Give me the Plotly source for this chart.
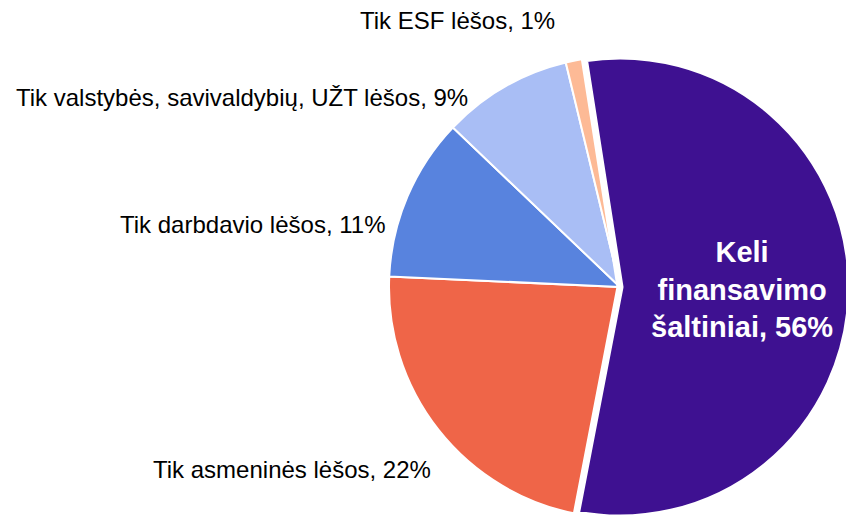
import plotly.graph_objects as go

# Data (clockwise from the bottom-left edge of the big slice)
categories = [
    "Tik asmeninės lėšos",
    "Tik darbdavio lėšos",
    "Tik valstybės, savivaldybių, UŽT lėšos",
    "Tik ESF lėšos",
    "Keli finansavimo šaltiniai",
]
shares = [22.7, 11.4, 9.1, 1.3, 55.5]
pct_labels = [22, 11, 9, 1, 56]
colors = ["#EF6548", "#5883DE", "#A9BEF5", "#FDBA96", "#3E1191"]

# page body has an 8px margin, so the figure is placed at (8, 8)
OFF = 8
W, H = 854 - OFF, 518 - OFF

def px(x):
    return (x - OFF) / W

def py(y):
    return 1 - (y - OFF) / H

CX, CY, R = 620, 287, 231

fig = go.Figure()
fig.add_trace(go.Pie(
    labels=categories,
    values=shares,
    sort=False,
    direction="clockwise",
    rotation=190.9,
    textinfo="none",
    hoverinfo="label+percent",
    marker=dict(colors=colors, line=dict(color="white", width=[2, 2, 2, 2, 7])),
    domain=dict(x=[px(CX - R), px(CX + R)], y=[max(0, py(CY + R)), py(CY - R)]),
    showlegend=False,
))

# label positions (pixels: right edge x, vertical centre y)
outside_pos = [(433, 469), (387, 224), (470, 97), (557, 20)]
annotations = []
for (xr, yc), cat, p in zip(outside_pos, categories[:4], pct_labels[:4]):
    annotations.append(dict(
        x=px(xr), y=py(yc), xref="paper", yref="paper",
        xanchor="right", yanchor="middle", showarrow=False,
        text=f"{cat}, {p}%",
        font=dict(family="Liberation Sans, Arial", size=24, color="#000000"),
    ))
big = categories[4].split(" ")
annotations.append(dict(
    x=px(742), y=py(289), xref="paper", yref="paper",
    xanchor="center", yanchor="middle", showarrow=False, align="center",
    text=f"<b>{big[0]}<br>{big[1]}<br>{big[2]}, {pct_labels[4]}%</b>",
    font=dict(family="Liberation Sans, Arial", size=29, color="#FFFFFF"),
))

fig.update_layout(
    width=W, height=H,
    margin=dict(l=0, r=0, t=0, b=0),
    paper_bgcolor="white", plot_bgcolor="white",
    annotations=annotations,
)

fig.write_html("out.html")
